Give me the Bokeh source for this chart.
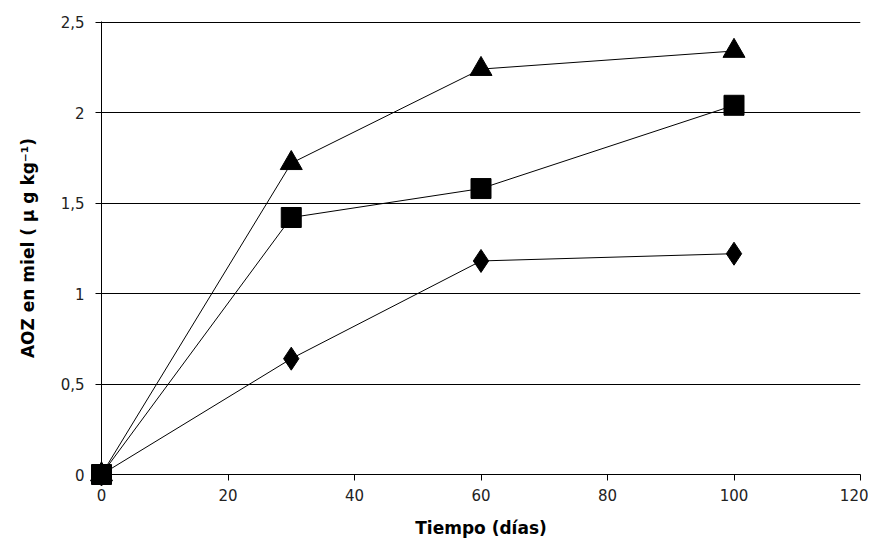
from bokeh.plotting import figure
from bokeh.embed import file_html
from bokeh.resources import INLINE
from bokeh.models import FixedTicker, Range1d

dias = [0, 30, 60, 100]
serie_triangulo = [0, 1.72, 2.24, 2.34]
serie_cuadrado = [0, 1.42, 1.58, 2.04]
serie_rombo = [0, 0.64, 1.18, 1.22]
x_ticks = [0, 20, 40, 60, 80, 100, 120]
y_ticks = [0, 0.5, 1, 1.5, 2, 2.5]
y_labels = ["0", "0,5", "1", "1,5", "2", "2,5"]

FONT = "DejaVu Sans"

p = figure(width=868, height=540, output_backend="svg", toolbar_location=None,
           x_range=Range1d(0, 120), y_range=Range1d(0, 2.503),
           min_border_left=101, min_border_right=8, min_border_top=21, min_border_bottom=62)
p.outline_line_color = None
p.background_fill_color = "white"
p.border_fill_color = "white"

p.xgrid.grid_line_color = None
p.ygrid.grid_line_color = "black"
p.ygrid.grid_line_width = 1
p.ygrid.ticker = FixedTicker(ticks=y_ticks)

p.xaxis.ticker = FixedTicker(ticks=x_ticks)
p.yaxis.ticker = FixedTicker(ticks=y_ticks)
p.yaxis.major_label_overrides = {t: l for t, l in zip(y_ticks, y_labels)}

for ax in (p.xaxis[0], p.yaxis[0]):
    ax.axis_line_color = "black"
    ax.axis_line_width = 1
    ax.major_tick_line_color = "black"
    ax.major_tick_in = 0
    ax.major_tick_out = 6
    ax.minor_tick_line_color = None
    ax.major_label_text_font = FONT
    ax.major_label_text_font_size = "15px"
    ax.major_label_text_color = "#222222"
    ax.axis_label_text_font = FONT
    ax.axis_label_text_font_size = "17px"
    ax.axis_label_text_font_style = "bold"
    ax.axis_label_text_color = "black"

p.xaxis.axis_label = "Tiempo (días)"
p.yaxis.axis_label = "AOZ en miel ( µ g kg⁻¹)"
p.xaxis.major_label_standoff = 8
p.yaxis.major_label_standoff = 11
p.xaxis.axis_label_standoff = 14
p.yaxis.axis_label_standoff = 20

p.line(dias, serie_triangulo, line_color="black", line_width=1)
p.line(dias, serie_cuadrado, line_color="black", line_width=1)
p.line(dias, serie_rombo, line_color="black", line_width=1)
p.scatter(dias, serie_rombo, marker="diamond", size=23, fill_color="black", line_color="black", level="overlay")
p.scatter(dias, serie_triangulo, marker="triangle", size=22, fill_color="black", line_color="black", level="overlay")
p.scatter(dias, serie_cuadrado, marker="square", size=20, fill_color="black", line_color="black", level="overlay")

open("out.html", "w").write(file_html(p, INLINE))
